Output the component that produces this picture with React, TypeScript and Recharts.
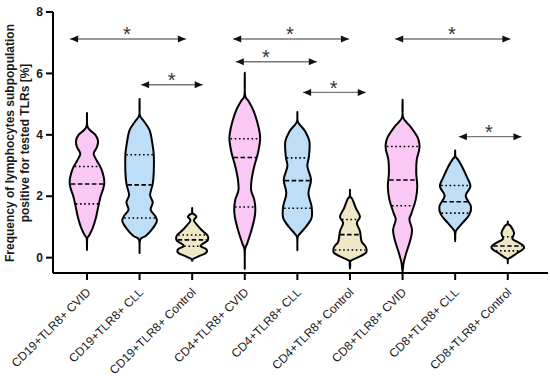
import React from 'react';
import { ScatterChart, Scatter, XAxis, YAxis } from 'recharts';

// ---------- data ----------
const categories = [
  'CD19+TLR8+ CVID', 'CD19+TLR8+ CLL', 'CD19+TLR8+ Control',
  'CD4+TLR8+ CVID', 'CD4+TLR8+ CLL', 'CD4+TLR8+ Control',
  'CD8+TLR8+ CVID', 'CD8+TLR8+ CLL', 'CD8+TLR8+ Control',
];
const yTicks = [0, 2, 4, 6, 8];
const xTicks = [0, 1, 2, 3, 4, 5, 6, 7, 8];
const yAxisLines = ['Frequency of lymphocytes subpopulation', 'positive for tested TLRs [%]'];

// violin outlines: [value, half-width in category units], top to bottom
const cd19Cvid = [[4.71,0],[4.3,0.005],[4.15,0.06],[4.0,0.16],[3.8,0.21],[3.6,0.19],[3.45,0.14],[3.35,0.13],[3.15,0.19],[2.9,0.27],[2.65,0.315],[2.45,0.33],[2.25,0.31],[2.0,0.26],[1.62,0.21],[1.3,0.17],[0.97,0.11],[0.72,0.04],[0.62,0.005],[0.24,0]];
const cd19Cll = [[5.17,0],[4.65,0.005],[4.45,0.08],[4.15,0.19],[3.75,0.24],[3.35,0.27],[2.8,0.27],[2.4,0.25],[2.05,0.2],[1.8,0.25],[1.56,0.21],[1.35,0.3],[1.2,0.33],[1.05,0.29],[0.85,0.2],[0.7,0.11],[0.58,0.01],[0.15,0]];
const cd19Control = [[1.62,0],[1.45,0.005],[1.4,0.05],[1.33,0.08],[1.25,0.04],[1.18,0.04],[1.05,0.1],[0.9,0.18],[0.75,0.28],[0.65,0.305],[0.55,0.29],[0.45,0.2],[0.37,0.16],[0.27,0.27],[0.15,0.26],[0.04,0.12],[-0.04,0.02],[-0.1,0]];
const cd4Cvid = [[6.02,0],[5.3,0.005],[5.1,0.07],[4.81,0.16],[4.4,0.24],[4.05,0.285],[3.8,0.29],[3.4,0.25],[2.97,0.18],[2.54,0.13],[2.2,0.12],[1.89,0.18],[1.62,0.2],[1.34,0.19],[0.91,0.13],[0.48,0.05],[0.25,0.005],[-0.37,0]];
const cd4Cll = [[4.74,0],[4.45,0.005],[4.3,0.06],[4.11,0.15],[3.78,0.23],[3.29,0.22],[2.97,0.19],[2.54,0.26],[2.1,0.21],[1.67,0.27],[1.29,0.27],[1.02,0.17],[0.78,0.05],[0.65,0.005],[0.24,0]];
const cd4Control = [[2.21,0],[2.0,0.005],[1.89,0.05],[1.62,0.11],[1.34,0.19],[1.13,0.13],[0.86,0.19],[0.53,0.22],[0.4,0.28],[0.3,0.31],[0.15,0.3],[-0.01,0.13],[-0.12,0.005],[-0.35,0]];
const cd8Cvid = [[5.14,0],[4.6,0.005],[4.4,0.08],[4.27,0.15],[3.94,0.28],[3.7,0.32],[3.5,0.315],[3.19,0.27],[2.75,0.26],[2.32,0.28],[1.89,0.25],[1.45,0.17],[1.24,0.13],[0.91,0.18],[0.59,0.15],[0.15,0.07],[-0.17,0.02],[-0.46,0]];
const cd8Cll = [[3.49,0],[3.3,0.005],[3.2,0.05],[2.97,0.13],[2.64,0.22],[2.32,0.29],[2.02,0.2],[1.67,0.3],[1.4,0.27],[1.13,0.14],[0.91,0.03],[0.8,0.005],[0.53,0]];
const cd8Control = [[1.18,0],[1.1,0.005],[1.02,0.06],[0.8,0.12],[0.61,0.09],[0.5,0.2],[0.4,0.29],[0.32,0.31],[0.25,0.27],[0.15,0.18],[0.01,0.06],[-0.05,0.005],[-0.18,0]];
const profiles = [cd19Cvid, cd19Cll, cd19Control, cd4Cvid, cd4Cll, cd4Control, cd8Cvid, cd8Cll, cd8Control];

// [Q1, median, Q3]
const quartiles = [
  [1.75, 2.40, 2.97], [1.29, 2.37, 3.35], [0.37, 0.58, 0.74],
  [1.65, 3.26, 3.87], [1.61, 2.51, 3.25], [0.25, 0.75, 1.24],
  [1.69, 2.53, 3.62], [1.45, 1.82, 2.35], [0.22, 0.38, 0.68],
];

// significance comparisons (in category units)
const compFrom = [-0.32, 1.03, 2.78, 2.83, 4.11, 5.86, 7.07];
const compTo = [1.88, 2.20, 4.98, 4.37, 5.30, 8.05, 8.26];
const compY = [7.12, 5.63, 7.12, 6.38, 5.38, 7.12, 3.94];
const compStarX = [0.76, 1.61, 3.86, 3.40, 4.69, 6.94, 7.64];
const compLabel = ['*', '*', '*', '*', '*', '*', '*'];

// ---------- styles ----------
const groupFills = ['#FAC8F4', '#BEDDF7', '#F0E6C8'];
const FONT = '"Liberation Sans", Arial, sans-serif';
const STAR_LIFT = 0.29;

// ---------- helpers ----------
function outlinePoints(i: number, prof: number[][]) {
  const right = prof.map(([v, w]) => ({ x: i + w, y: v }));
  const left = prof.slice(1, -1).reverse().map(([v, w]) => ({ x: i - w, y: v }));
  return [...right, ...left];
}

function widthAt(prof: number[][], v: number) {
  for (let k = 0; k < prof.length - 1; k++) {
    const [v1, w1] = prof[k];
    const [v2, w2] = prof[k + 1];
    if (v <= v1 && v >= v2) {
      const t = v1 === v2 ? 0 : (v1 - v) / (v1 - v2);
      return w1 + (w2 - w1) * t;
    }
  }
  return 0;
}

function closedSmoothPath(pts: { x: number; y: number }[]) {
  const n = pts.length;
  if (!n) return '';
  let d = `M${pts[0].x},${pts[0].y}`;
  for (let i = 0; i < n; i++) {
    const p0 = pts[(i - 1 + n) % n], p1 = pts[i], p2 = pts[(i + 1) % n], p3 = pts[(i + 2) % n];
    const c1x = p1.x + (p2.x - p0.x) / 6, c1y = p1.y + (p2.y - p0.y) / 6;
    const c2x = p2.x - (p3.x - p1.x) / 6, c2y = p2.y - (p3.y - p1.y) / 6;
    d += ` C${c1x},${c1y} ${c2x},${c2y} ${p2.x},${p2.y}`;
  }
  return d + ' Z';
}

const NoShape = () => <g />;

const ArrowHead = (props: any) => {
  const { cx, cy, payload } = props;
  if (cx == null || cy == null) return <g />;
  const dir = payload.dir;
  const len = 8, half = 3.5;
  return <path d={`M${cx},${cy} L${cx - dir * len},${cy - half} L${cx - dir * len},${cy + half} Z`} fill="#111" />;
};

const StarShape = (props: any) => {
  const { cx, cy, payload } = props;
  if (cx == null || cy == null) return <g />;
  return (
    <text x={cx} y={cy + 11} textAnchor="middle" fontSize={20} fill="#333" fontFamily={FONT}>
      {payload.label}
    </text>
  );
};

const XTick = (props: any) => {
  const { x, y, payload } = props;
  const ax = x + 4.5, ay = y + 11;
  return (
    <text x={ax} y={ay} transform={`rotate(-45, ${ax}, ${ay})`} textAnchor="end"
      fontSize={12} fill="#1a1a1a" fontFamily={FONT}>
      {categories[payload.value]}
    </text>
  );
};

export default function App() {
  const violinSeries = profiles.map((prof, i) => {
    const pts = outlinePoints(i, prof);
    const fill = groupFills[i % 3];
    return (
      <Scatter
        key={`v${i}`}
        data={pts}
        isAnimationActive={false}
        shape={NoShape}
        line={(p: any) => (
          <path d={closedSmoothPath(p.points)} fill={fill} stroke="#000" strokeWidth={2} strokeLinejoin="round" />
        )}
      />
    );
  });

  const quartileSeries: React.ReactNode[] = [];
  quartiles.forEach((qs, i) => {
    qs.forEach((q, k) => {
      const w = widthAt(profiles[i], q) * 0.94;
      quartileSeries.push(
        <Scatter
          key={`q${i}-${k}`}
          data={[{ x: i - w, y: q }, { x: i + w, y: q }]}
          isAnimationActive={false}
          shape={NoShape}
          line={{
            stroke: '#000',
            strokeWidth: 1.6,
            strokeDasharray: k === 1 ? '4.5 2.5' : '1.6 2.6',
          }}
        />
      );
    });
  });

  const bracketSeries = compY.map((y, j) => (
    <Scatter
      key={`b${j}`}
      data={[{ x: compFrom[j], y, dir: -1 }, { x: compTo[j], y, dir: 1 }]}
      isAnimationActive={false}
      shape={ArrowHead}
      line={{ stroke: '#777', strokeWidth: 1.3 }}
    />
  ));

  const starSeries = compY.map((y, j) => (
    <Scatter
      key={`s${j}`}
      data={[{ x: compStarX[j], y: y + STAR_LIFT, label: compLabel[j] }]}
      isAnimationActive={false}
      shape={StarShape}
    />
  ));

  return (
    <div style={{ position: 'absolute', left: 0, top: 0, width: 550, height: 376, background: '#fff' }}>
      <ScatterChart width={550} height={376} margin={{ top: 12, right: 2, bottom: 3, left: 0 }}>
        <XAxis
          type="number"
          dataKey="x"
          domain={[-0.646, 8.765]}
          allowDataOverflow
          ticks={xTicks}
          interval={0}
          height={100}
          tick={<XTick />}
          tickSize={7}
          axisLine={{ stroke: '#000', strokeWidth: 2 }}
          tickLine={{ stroke: '#000', strokeWidth: 2 }}
        />
        <YAxis
          type="number"
          dataKey="y"
          domain={[-0.5, 8]}
          allowDataOverflow
          ticks={yTicks}
          interval={0}
          width={53}
          tickSize={7}
          tickMargin={3}
          tick={{ fontSize: 12, fontWeight: 'bold', fill: '#1a1a1a', fontFamily: FONT }}
          axisLine={{ stroke: '#000', strokeWidth: 2 }}
          tickLine={{ stroke: '#000', strokeWidth: 2 }}
        />
        {violinSeries}
        {quartileSeries}
        {bracketSeries}
        {starSeries}
      </ScatterChart>
      <svg width={60} height={376} style={{ position: 'absolute', left: 0, top: 0, pointerEvents: 'none' }}>
        <text x={14} y={143} transform="rotate(-90, 14, 143)" textAnchor="middle" fontSize={12}
          fontWeight="bold" fill="#1a1a1a" fontFamily={FONT}>{yAxisLines[0]}</text>
        <text x={28.5} y={143} transform="rotate(-90, 28.5, 143)" textAnchor="middle" fontSize={12}
          fontWeight="bold" fill="#1a1a1a" fontFamily={FONT}>{yAxisLines[1]}</text>
      </svg>
    </div>
  );
}
